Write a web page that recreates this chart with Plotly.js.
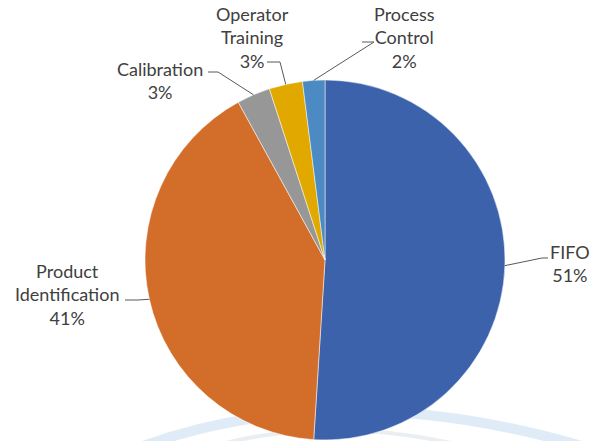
<!DOCTYPE html>
<html><head><meta charset="utf-8">
<script src="https://cdn.plot.ly/plotly-3.0.1.min.js"></script>
<style>html,body{margin:0;padding:0;background:#fff}</style>
</head><body>
<div id="chart" style="width:590px;height:441px"></div>
<script>
// Data
const categories = ["FIFO", "Product Identification", "Calibration", "Operator Training", "Process Control"];
const values = [51, 41, 3, 3, 2];
const displayLabels = ["FIFO", "Product<br>Identification", "Calibration", "Operator<br>Training", "Process<br>Control"];
const colors = ["#3C62AC", "#D36E2A", "#979797", "#E1A900", "#4B8AC2"];

// Layout geometry (pixels)
const W = 590, H = 441;
const cx = 325, cy = 260, R = 180;
// label block centers and elbow points for leader lines
const labelPos = [[570, 263], [67, 294], [160, 81], [252, 37], [405, 37]];
const elbows = [[[548, 258], [542, 258]], [[125, 300], [138, 300]], [[208, 72], [218, 72]], [[267, 62], [280, 62]], [[362, 42], [374, 42]]];

const px = x => x / W;
const py = y => 1 - y / H;

const total = values.reduce((a, b) => a + b, 0);
let cum = 0;
const annotations = [];
const shapes = [];
// faint watermark arcs in background
shapes.push({type: 'path', xref: 'paper', yref: 'paper', layer: 'below',
  path: `M ${px(140)} ${py(447)} Q ${px(340)} ${py(375)} ${px(585)} ${py(447)}`,
  line: {color: 'rgba(185,212,238,0.45)', width: 10}});
shapes.push({type: 'path', xref: 'paper', yref: 'paper', layer: 'below',
  path: `M ${px(200)} ${py(450)} Q ${px(330)} ${py(410)} ${px(480)} ${py(450)}`,
  line: {color: 'rgba(205,212,220,0.4)', width: 4}});

values.forEach((v, i) => {
  const mid = (cum + v / 2) / total * 2 * Math.PI;
  cum += v;
  const ax = cx + R * Math.sin(mid);
  const ay = cy - R * Math.cos(mid);
  const pct = Math.round(v / total * 100) + '%';
  annotations.push({
    xref: 'paper', yref: 'paper', x: px(labelPos[i][0]), y: py(labelPos[i][1]),
    xanchor: 'center', yanchor: 'middle', showarrow: false, align: 'center',
    text: displayLabels[i] + '<br>' + pct,
    font: {family: 'Lato, "Open Sans", sans-serif', size: 18, color: '#404040'}
  });
  const e = elbows[i];
  shapes.push({type: 'path', xref: 'paper', yref: 'paper',
    path: `M ${px(e[0][0])} ${py(e[0][1])} L ${px(e[1][0])} ${py(e[1][1])} L ${px(ax)} ${py(ay)}`,
    line: {color: '#595959', width: 1}});
});

const trace = {
  type: 'pie',
  labels: categories,
  values: values,
  sort: false,
  direction: 'clockwise',
  rotation: 0,
  textinfo: 'none',
  hoverinfo: 'label+percent',
  marker: {colors: colors, line: {color: '#ffffff', width: 0.5}},
  domain: {x: [px(cx - R), px(cx + R)], y: [py(cy + R), py(cy - R)]}
};

Plotly.newPlot('chart', [trace], {
  width: W, height: H,
  margin: {l: 0, r: 0, t: 0, b: 0},
  showlegend: false,
  paper_bgcolor: '#ffffff',
  annotations: annotations,
  shapes: shapes
}, {displayModeBar: false, staticPlot: true});
</script>
</body></html>
